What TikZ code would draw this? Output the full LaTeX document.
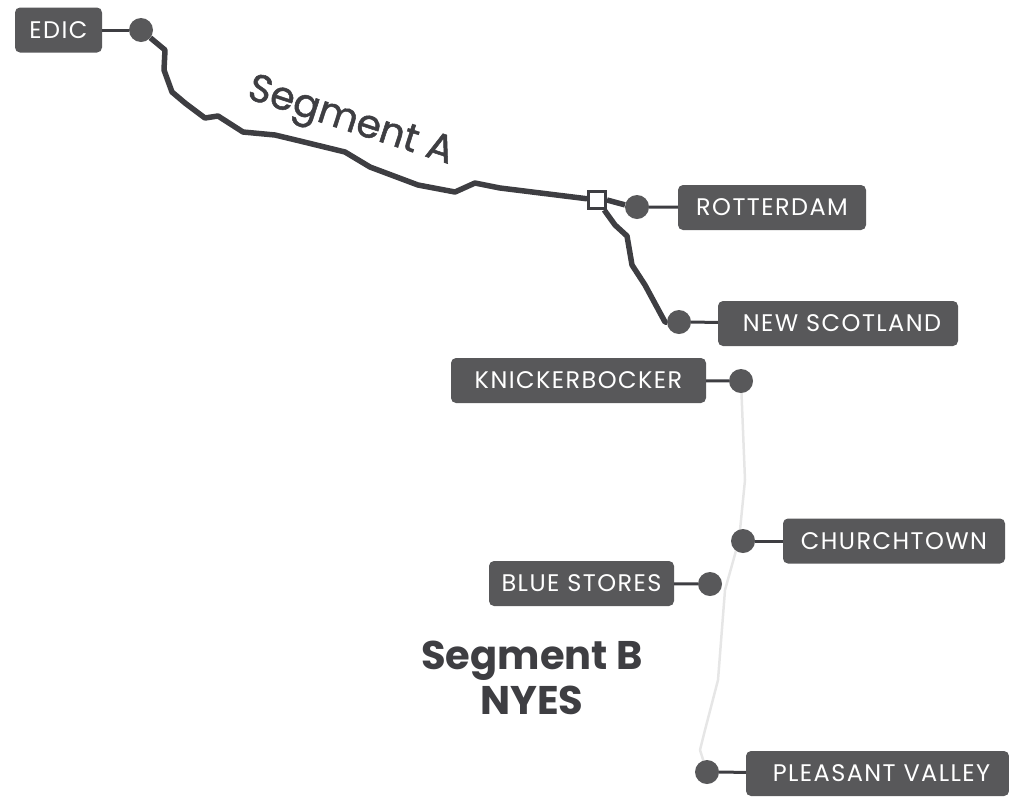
\documentclass[tikz,border=0pt]{standalone}
\usepackage{xcolor}
\usepackage{tikz}
\usepackage{fontspec}
\usetikzlibrary{backgrounds}
\setmainfont{Poppins}
\definecolor{boxgray}{HTML}{58585A}
\definecolor{linegray}{HTML}{3E3E42}
\definecolor{paleline}{HTML}{E6E6E6}
\newfontfamily\labelfont[LetterSpace=6]{Poppins}
\newfontfamily\segfont[FakeBold=1.3]{Poppins}
\tikzset{
  stationbox/.style={shape=rectangle,rounded corners=5pt,fill=boxgray,text=white,inner sep=0pt,minimum height=45pt,font=\labelfont\fontsize{24}{28}\selectfont},
  stationdot/.style={shape=circle,fill=boxgray,inner sep=0pt,minimum size=24pt},
  stub/.style={draw=linegray,line width=3pt},
  route/.style={draw=linegray,line width=5.5pt,line join=round},
  paleroute/.style={draw=paleline,line width=2.5pt,line join=round},
  segtext/.style={text=linegray,inner sep=0pt}
}
\begin{document}
\begin{tikzpicture}[x=1pt,y=-1pt]
\useasboundingbox (0,0) rectangle (1009,796);
\node[stationdot] (edicdot) at (141,30) {};
\node[stationdot] (rotdot) at (637,207) {};
\node[stationdot] (scotdot) at (679,322) {};
\node[stationdot] (knickdot) at (741,381) {};
\node[stationdot] (churchdot) at (743,541) {};
\node[stationdot] (bluedot) at (710,584) {};
\node[stationdot] (pleasdot) at (707,772) {};
\node[stationbox,minimum width=87pt] (edic) at (58.5,30) {EDIC};
\node[stationbox,minimum width=188pt] (rot) at (772,207.5) {ROTTERDAM};
\node[stationbox,minimum width=240pt] (scot) at (838,323.5) {\hspace{8pt}NEW SCOTLAND};
\node[stationbox,minimum width=255pt] (knick) at (578.5,380.5) {KNICKERBOCKER};
\node[stationbox,minimum width=222pt] (church) at (894,541) {CHURCHTOWN};
\node[stationbox,minimum width=185pt] (blue) at (581.5,583.5) {BLUE STORES};
\node[stationbox,minimum width=263pt] (pleas) at (877.5,773.5) {\hspace{8pt}PLEASANT VALLEY};
\node[shape=rectangle,draw=linegray,line width=3pt,fill=white,minimum size=17pt,inner sep=0pt] (junction) at (597,200) {};
\begin{scope}[on background layer]
\path[paleroute] (knickdot) -- (745,480) -- (739,540) -- (725,590) -- (718,680) -- (705,730) -- (700,750) -- (pleasdot);
\end{scope}
\path[route] (edicdot) -- (165,50) -- (164,70) -- (172,92) -- (185,103) -- (205,118) -- (218,116) -- (243,132) -- (275,135) -- (300,141) -- (345,152) -- (370,167) -- (418,185) -- (455,192) -- (475,183) -- (500,188) -- (junction);
\path[stub] (edic) edge (edicdot);
\path[stub] (rot) edge (rotdot);
\path[stub] (scot) edge (scotdot);
\path[stub] (knick) edge (knickdot);
\path[stub] (church) edge (churchdot);
\path[stub] (blue) edge (bluedot);
\path[stub] (pleas) edge (pleasdot);
\path[route] (junction.east) -- (rotdot.170);
\path[route] (junction) -- (615,225) -- (627,236) -- (632,265) -- (645,285) -- (665,322) -- (scotdot);
\node[segtext,font=\segfont\fontsize{39}{44}\selectfont,rotate=-18] (sega) at (350,123) {Segment A};
\node[segtext,font=\bfseries\fontsize{40}{45}\selectfont,align=center] (segb) at (532,678) {Segment B\\NYES};
\end{tikzpicture}
\end{document}
